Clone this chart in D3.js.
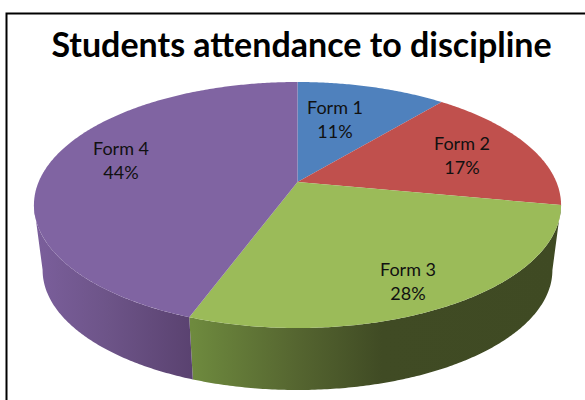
<!DOCTYPE html>
<html>
<head>
<meta charset="utf-8">
<script src="https://cdn.jsdelivr.net/npm/d3@7"></script>
<style>
  html, body { margin: 0; padding: 0; background: #fff; overflow: hidden; }
  svg { display: block; }
</style>
</head>
<body>
<div id="chart"></div>
<script>
const categories = ['Form 1', 'Form 2', 'Form 3', 'Form 4'];
const attendance = [11, 17, 27.6, 44.4];
const topColors = ['#4f81bd', '#c0504d', '#9bbb59', '#8064a2'];
const chartTitle = 'Students attendance to discipline';

const width = 585;
const height = 400;

const svg = d3
  .select('#chart')
  .append('svg')
  .attr('width', width)
  .attr('height', height);

// Perspective of the tilted disc: the far side is squeezed, the near side stretched
const tilt = -0.187;
const topRim = { cx: 297.5, cy: 182, a: 258.9, b: 118.7 };
const bottomRim = { cx: 297.5, cy: 247.7, a: 250.4, b: 115.7 };

function project(rim, angle) {
  const u = Math.sin(angle);
  const v = -Math.cos(angle);
  const w = 1 + tilt * v;
  return [rim.cx + (rim.a * u) / w, rim.cy + (rim.b * v) / w];
}

function rimPoints(rim, start, end) {
  const steps = Math.max(2, Math.ceil(Math.abs(end - start) / 0.01));
  return d3.range(steps + 1).map((i) => project(rim, start + ((end - start) * i) / steps));
}

const pie = d3.pie().sort(null);
const arcs = pie(attendance);
const line = d3.line();

// Gradients on the side wall, running left to right across the disc
const defs = svg.append('defs');
const wallStops = {
  2: [[0.3, '#6e8a3e'], [0.5, '#556530'], [0.66, '#404b24'], [1, '#3f4a23']],
  3: [[0, '#7b5f9c'], [0.14, '#6d5488'], [0.3, '#5a4270']],
};
Object.entries(wallStops).forEach(([i, stops]) => {
  const gradient = defs
    .append('linearGradient')
    .attr('id', 'wall' + i)
    .attr('gradientUnits', 'userSpaceOnUse')
    .attr('x1', 34)
    .attr('x2', 561)
    .attr('y1', 0)
    .attr('y2', 0);
  stops.forEach(([offset, color]) => {
    gradient.append('stop').attr('offset', offset).attr('stop-color', color);
  });
});

// Frame, open on the right and at the bottom
svg
  .append('path')
  .attr('d', `M6.5,${height}V13.5H${width}`)
  .attr('fill', 'none')
  .attr('stroke', '#000')
  .attr('stroke-width', 2);

svg
  .append('text')
  .attr('x', 301.5)
  .attr('y', 57)
  .attr('text-anchor', 'middle')
  .style('font-family', 'Lato, sans-serif')
  .style('font-weight', 700)
  .style('font-size', '34px')
  .attr('fill', '#000')
  .text(chartTitle);

// Side wall: only the part between the two widest points of the rim can be seen
const wallFrom = Math.acos(tilt);
const wallTo = 2 * Math.PI - wallFrom;

arcs.forEach((d, i) => {
  const start = Math.max(d.startAngle, wallFrom);
  const end = Math.min(d.endAngle, wallTo);
  if (end <= start) return;
  const points = rimPoints(topRim, start, end).concat(rimPoints(bottomRim, end, start));
  svg
    .append('path')
    .attr('d', line(points) + 'Z')
    .attr('fill', `url(#wall${i})`);
});

// Top face
arcs.forEach((d, i) => {
  const points = [[topRim.cx, topRim.cy]].concat(rimPoints(topRim, d.startAngle, d.endAngle));
  svg
    .append('path')
    .attr('d', line(points) + 'Z')
    .attr('fill', topColors[i]);
});

// Labels
const labelAt = [
  [335, 114],
  [462, 150],
  [408, 276],
  [121, 155],
];
const formatPercent = (v) => d3.format('.0f')(v) + '%';

categories.forEach((name, i) => {
  const label = svg
    .append('text')
    .attr('text-anchor', 'middle')
    .style('font-family', 'Lato, sans-serif')
    .style('font-size', '18px')
    .attr('fill', '#111');
  label.append('tspan').attr('x', labelAt[i][0]).attr('y', labelAt[i][1]).text(name);
  label.append('tspan').attr('x', labelAt[i][0]).attr('y', labelAt[i][1] + 24).text(formatPercent(attendance[i]));
});
</script>
</body>
</html>
